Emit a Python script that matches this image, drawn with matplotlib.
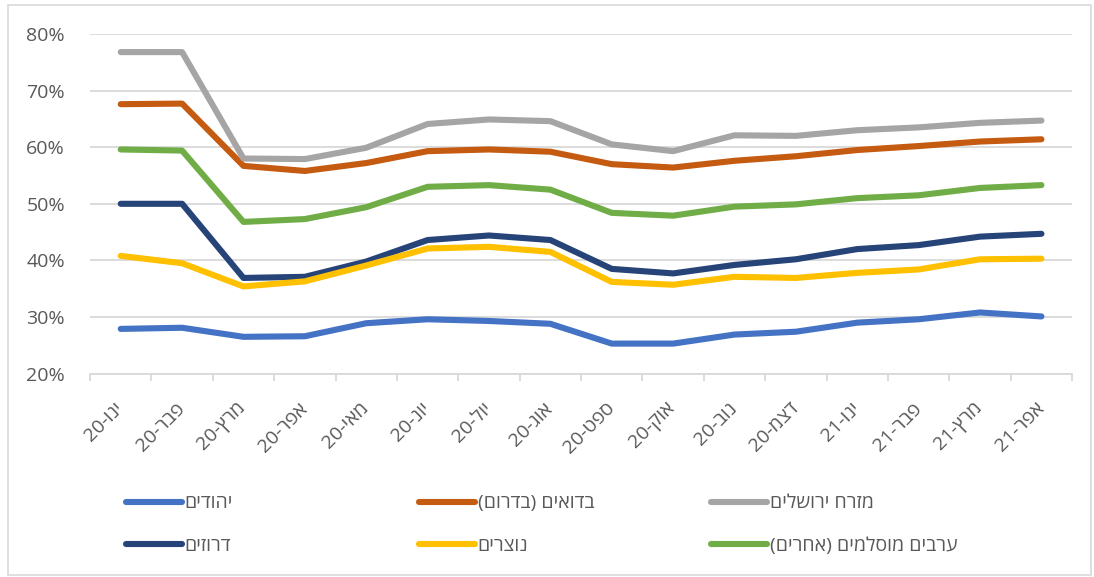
import numpy as np
import matplotlib
matplotlib.use('Agg')
from matplotlib import pyplot as plt
from matplotlib.patches import Rectangle

plt.rcParams['font.family'] = ['Open Sans', 'DejaVu Sans']

months = ['ינו', 'פבר', 'מרץ', 'אפר', 'מאי', 'יונ', 'יול', 'אוג', 'ספט', 'אוק', 'נוב', 'דצמ',
          'ינו', 'פבר', 'מרץ', 'אפר']
years = ['20'] * 12 + ['21'] * 4

jews = [27.9, 28.1, 26.5, 26.6, 28.9, 29.6, 29.3, 28.8, 25.3, 25.3, 26.9, 27.4, 29.0, 29.6, 30.8, 30.1]
bedouin = [67.6, 67.7, 56.7, 55.8, 57.2, 59.3, 59.6, 59.2, 57.0, 56.4, 57.6, 58.4, 59.5, 60.2, 61.0, 61.4]
east_jlm = [76.8, 76.8, 58.0, 57.9, 59.9, 64.1, 64.9, 64.6, 60.5, 59.3, 62.1, 62.0, 63.0, 63.5, 64.3, 64.7]
druze = [50.0, 50.0, 36.9, 37.1, 39.8, 43.6, 44.4, 43.6, 38.5, 37.7, 39.2, 40.2, 42.0, 42.7, 44.2, 44.7]
christians = [40.8, 39.5, 35.4, 36.3, 39.1, 42.1, 42.4, 41.5, 36.2, 35.7, 37.1, 36.9, 37.8, 38.4, 40.2, 40.3]
muslims = [59.6, 59.4, 46.8, 47.3, 49.4, 53.0, 53.3, 52.5, 48.4, 47.9, 49.5, 49.9, 51.0, 51.5, 52.8, 53.3]

names = ['יהודים', 'בדואים (בדרום)', 'מזרח ירושלים', 'דרוזים', 'נוצרים', 'ערבים מוסלמים (אחרים)']
colors = ['#4472C4', '#C55A11', '#A5A5A5', '#264478', '#FFC000', '#70AD47']


def heb(s):
    # matplotlib has no bidi support, so put the glyphs in visual order
    r = s[::-1]
    return r.translate(str.maketrans('()', ')('))


txt = '#595959'
grid = '#D9D9D9'

fig = plt.figure(figsize=(10.94, 5.77), dpi=100)
fig.patches.append(Rectangle((0.007, 0.004), 0.99, 0.987, transform=fig.transFigure,
                             fill=False, edgecolor=grid, linewidth=1.2))
ax = fig.add_axes([0.0823, 0.3525, 0.8977, 0.5886])

x = np.arange(len(months))
series = [jews, bedouin, east_jlm, druze, christians, muslims]
handles = []
for vals, name, c in zip(series, names, colors):
    h, = ax.plot(x, vals, color=c, lw=4.4, solid_capstyle='round', solid_joinstyle='round',
                 label=heb(name))
    handles.append(h)

ax.set_xlim(-0.5, len(months) - 0.5)
ax.set_ylim(20, 80)
ax.set_yticks(np.arange(20, 81, 10))
ax.set_yticklabels(['%d%%' % v for v in range(20, 81, 10)])
ax.yaxis.grid(True, color=grid, lw=1.3)
ax.set_axisbelow(True)
for s in ['left', 'right', 'top']:
    ax.spines[s].set_visible(False)
ax.spines['bottom'].set_color(grid)
ax.spines['bottom'].set_linewidth(1.3)

ax.set_xticks(x)
ax.set_xticklabels([y + '-' + heb(m) for m, y in zip(months, years)],
                   rotation=45, ha='right', va='center', rotation_mode='anchor')
ax.set_xticks(np.arange(-0.5, len(months), 1), minor=True)
ax.tick_params(axis='x', which='major', length=0, pad=23, labelsize=14, labelcolor=txt)
ax.tick_params(axis='x', which='minor', length=5, color=grid, width=1.3)
ax.tick_params(axis='y', length=0, pad=18, labelsize=14, labelcolor=txt)

# legend: three fixed columns, two rows
col_x = [0.106, 0.374, 0.641]
for i in range(3):
    hs = [handles[i], handles[i + 3]]
    fig.legend(hs, [h.get_label() for h in hs], loc='upper left',
               bbox_to_anchor=(col_x[i], 0.16), frameon=False,
               fontsize=14, handlelength=2.9, handletextpad=0.12,
               labelspacing=1.25, borderpad=0, labelcolor=txt)

fig.savefig('out.png', dpi=100)
